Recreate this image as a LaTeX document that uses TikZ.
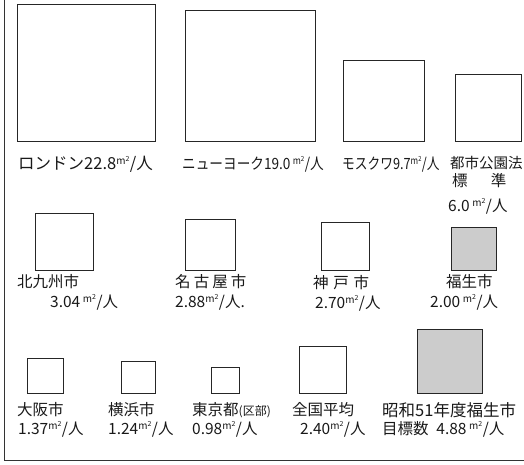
\documentclass[tikz,border=0pt]{standalone}
\usepackage{fontspec}
\setmainfont{Noto Sans CJK JP}
\newcommand\msq{\raisebox{0.5ex}{\fontsize{10}{11}\selectfont m\textsuperscript{2}}/人}
\tikzset{
  sqbox/.style={draw=black!85, line width=1pt},
  shadebox/.style={draw=black!85, line width=1pt, fill=black!20},
  lbl/.style={anchor=west, inner sep=0pt, font=\fontsize{15.5}{17}\selectfont, text=black!90},
  frame/.style={draw=black!80, line width=1pt}
}
\begin{document}
\begin{tikzpicture}[x=1pt,y=-1pt]
\useasboundingbox (0,0) rectangle (524,464);
% frame
\coordinate (ftop) at (4,0);
\coordinate (fcorner) at (4,460);
\coordinate (fright) at (524,460);
\draw[frame] (ftop) -- (fcorner) -- (fright);
% row 1 boxes
\draw[sqbox] (17,4) rectangle (155,141);
\draw[sqbox] (185,10) rectangle (315,141);
\draw[sqbox] (343,60) rectangle (424,141);
\draw[sqbox] (455,74) rectangle (521,141);
% row 1 labels
\node[lbl, font=\fontsize{16.5}{18}\selectfont] (lLondon) at (18,164) {ロンドン22.8\msq};
\node[lbl] (lNY) at (182,164) {\scalebox{0.88}[1]{ニューヨーク19.0\,\msq}};
\node[lbl] (lMoscow) at (342,164) {\scalebox{0.82}[1]{モスクワ9.7\msq}};
\node[lbl, font=\fontsize{14.5}{16}\selectfont] (lStd1) at (450,163) {都市公園法};
\node[lbl] (lStd2) at (452,181) {標\hspace{1.5em}準};
\node[lbl] (lStd3) at (448,206) {6.0\,\msq};
% row 2 boxes
\draw[sqbox] (35,213) rectangle (93,270);
\draw[sqbox] (185,219) rectangle (235,270);
\draw[sqbox] (321,222) rectangle (369,270);
\draw[shadebox] (451,227) rectangle (496,270);
% row 2 labels
\node[lbl] (lKita) at (17,282) {北九州市};
\node[lbl] (lKitaV) at (50,302) {3.04\,\msq};
\node[lbl] (lNagoya) at (175,282) {名\hspace{0.2em}古\hspace{0.2em}屋\hspace{0.2em}市};
\node[lbl] (lNagoyaV) at (175,302) {2.88\msq.};
\node[lbl] (lKobe) at (313,283) {神\hspace{0.3em}戸\hspace{0.3em}市};
\node[lbl] (lKobeV) at (315,303) {2.70\msq};
\node[lbl] (lFussa) at (446,282) {福生市};
\node[lbl] (lFussaV) at (430,302) {2.00\,\msq};
% row 3 boxes
\draw[sqbox] (27,358) rectangle (63,393);
\draw[sqbox] (121,361) rectangle (155,393);
\draw[sqbox] (211,367) rectangle (239,393);
\draw[sqbox] (299,346) rectangle (346,393);
\draw[shadebox] (417,329) rectangle (482,393);
% row 3 labels
\node[lbl] (lOsaka) at (17,410) {大阪市};
\node[lbl] (lOsakaV) at (18,429) {1.37\msq};
\node[lbl] (lYoko) at (108,410) {横浜市};
\node[lbl] (lYokoV) at (108,429) {1.24\msq};
\node[lbl] (lTokyo) at (192,410) {東京都\fontsize{12}{13}\selectfont(区部)};
\node[lbl] (lTokyoV) at (192,429) {0.98\msq};
\node[lbl] (lZen) at (292,410) {全国平均};
\node[lbl] (lZenV) at (300,429) {2.40\msq};
\node[lbl, font=\fontsize{16.5}{18}\selectfont] (lTarget) at (382,410) {昭和51年度福生市};
\node[lbl] (lTargetV) at (382,429) {目標数\hspace{0.5em}4.88\,\msq};
\end{tikzpicture}
\end{document}
